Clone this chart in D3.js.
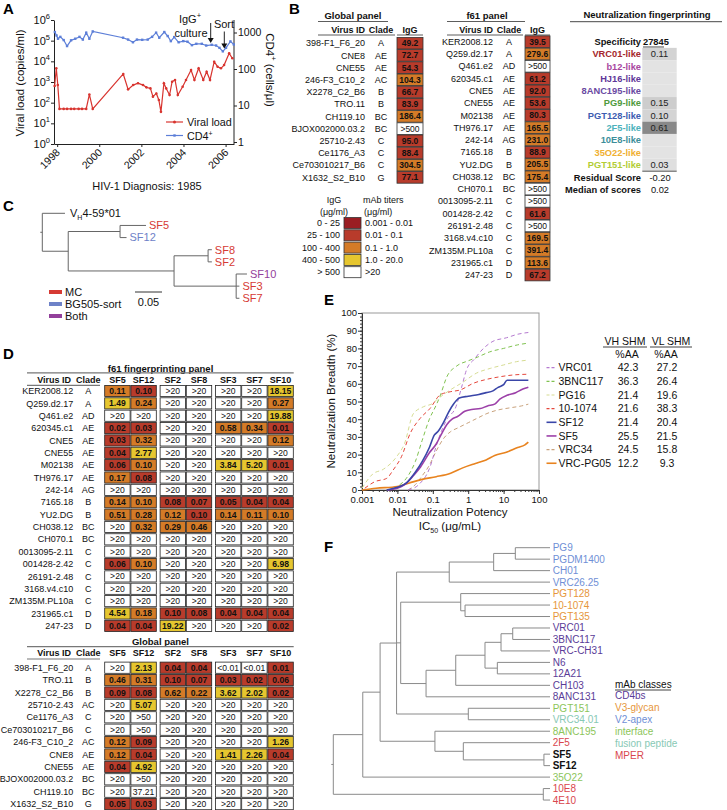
<!DOCTYPE html>
<html><head><meta charset="utf-8">
<script src="https://d3js.org/d3.v7.min.js"></script>
<style>
html,body{margin:0;padding:0;background:#fff;}
svg{display:block;font-family:"Liberation Sans",Arial,Helvetica,sans-serif;}
</style></head><body>
<svg id="fig" width="727" height="810" viewBox="0 0 727 810"></svg>
<script>
// ================= DATA =================
// ---- Panel A ----
const vlYears = [1997.88,1997.96,1998.03,1998.11,1998.31,1998.47,1998.66,1998.81,1999.02,1999.18,1999.38,1999.53,1999.69,2001.14,2001.37,2001.61,2001.84,2002.08,2002.24,2002.43,2002.55,2002.71,2002.83,2002.93,2003.07,2003.18,2003.34,2003.46,2003.60,2003.73,2003.96,2004.12,2004.36,2004.52,2004.72,2004.94,2005.10,2005.26,2005.46,2005.62,2005.78,2005.93,2006.17,2006.32];
const vlValues = [640,4600,710,50,50,50,50,50,50,50,50,250,50,2450,440,710,870,710,550,490,195,280,135,36,870,490,235,1030,1250,235,590,1250,3800,1250,4600,1250,3150,1250,9600,5500,4600,6600,24500,14000];
const cd4Years = [1997.89,1997.97,1998.04,1998.15,1998.31,1998.47,1998.66,1998.86,1999.06,1999.22,1999.38,1999.53,1999.69,2001.13,2001.37,2001.60,2001.79,2002.04,2002.30,2002.51,2002.70,2002.85,2003.09,2003.25,2003.40,2003.56,2003.77,2003.99,2004.19,2004.40,2004.61,2004.87,2005.08,2005.34,2005.55,2005.71,2005.87,2006.02,2006.23,2006.39];
const cd4Values = [1030,830,675,760,620,425,610,675,760,640,990,675,1070,720,640,540,640,630,640,760,990,720,1030,800,580,750,540,580,560,450,490,490,440,460,440,380,305,380,570,470];
const yearTicks = [1998,2000,2002,2004,2006];
const vlTicks = [1,10,100,1000,10000,100000,1000000];
const cd4Ticks = [1,10,100,1000];

// ---- Panel B ----
const bGlobalViruses = ["398-F1_F6_20","CNE8","CNE55","246-F3_C10_2","X2278_C2_B6","TRO.11","CH119.10","BJOX002000.03.2","25710-2.43","Ce1176_A3","Ce703010217_B6","X1632_S2_B10"];
const bGlobalClades = ["A","AE","AE","AC","B","B","BC","BC","C","C","C","G"];
const bGlobalIgG = [49.2,72.7,54.3,104.3,66.7,83.9,186.4,">500",95.0,88.4,304.5,77.1];
const f61Viruses = ["KER2008.12","Q259.d2.17","Q461.e2","620345.c1","CNE5","CNE55","M02138","TH976.17","242-14","7165.18","YU2.DG","CH038.12","CH070.1","0013095-2.11","001428-2.42","26191-2.48","3168.v4.c10","ZM135M.PL10a","231965.c1","247-23"];
const f61Clades = ["A","A","AD","AE","AE","AE","AE","AE","AG","B","B","BC","BC","C","C","C","C","C","D","D"];
const f61IgG = [39.5,279.6,">500",61.2,92.0,53.6,80.3,165.5,231.0,88.9,205.5,175.4,">500",">500",61.6,">500",169.5,391.4,113.6,67.2];
const iggLegend = ["0 - 25","25 - 100","100 - 400","400 - 500","> 500"];
const titerLegend = ["0.001 - 0.01","0.01 - 0.1","0.1 - 1.0","1.0 - 20.0",">20"];
const fpSpecificities = ["VRC01-like","b12-like","HJ16-like","8ANC195-like","PG9-like","PGT128-like","2F5-like","10E8-like","35O22-like","PGT151-like"];
const fpScores = [0.11,null,null,null,0.15,0.10,0.61,null,null,0.03];
const fpResidual = "-0.20";
const fpMedian = "0.02";

// ---- Panel C ----
const treeC = "(VH4-59*01:0.042,((SF5:0.048,SF12:0.012):0.096,((SF8:0.007,SF2:0.007):0.063,(SF10:0.020,SF3:0.006,SF7:0.006):0.115):0.196):0.048);";
const cMC = ["SF5","SF8","SF2","SF3","SF7"];
const cSort = ["SF12"];
const cBoth = ["SF10"];

// ---- Panel D ----
const dCols = ["SF5","SF12","SF2","SF8","SF3","SF7","SF10"];
const dF61 = {
  SF5:  [0.11,1.49,">20",0.02,0.03,0.04,0.06,0.17,">20",0.14,0.51,">20",">20",">20",0.06,">20",">20",">20",4.54,0.04],
  SF12: [0.098,0.24,">20",0.03,0.32,2.77,0.104,0.08,">20",0.104,0.28,0.32,">20",">20",0.104,">20",">20",">20",0.18,0.04],
  SF2:  [">20",">20",">20",">20",">20",">20",">20",">20",">20",0.08,0.12,0.29,">20",">20",">20",">20",">20",">20",0.10,19.22],
  SF8:  [">20",">20",">20",">20",">20",">20",">20",">20",">20",0.07,0.098,0.46,">20",">20",">20",">20",">20",">20",0.08,">20"],
  SF3:  [">20",">20",">20",0.58,">20",">20",3.84,">20",">20",0.05,0.14,">20",">20",">20",">20",">20",">20",">20",0.04,">20"],
  SF7:  [">20",">20",">20",0.34,">20",">20",5.20,">20",">20",0.04,0.11,">20",">20",">20",">20",">20",">20",">20",0.04,">20"],
  SF10: [18.15,0.27,19.88,0.01,0.12,">20",0.01,">20",">20",0.04,0.104,">20",">20",">20",6.98,">20",">20",">20",0.04,0.02]
};
const dGlobalViruses = ["398-F1_F6_20","TRO.11","X2278_C2_B6","25710-2.43","Ce1176_A3","Ce703010217_B6","246-F3_C10_2","CNE8","CNE55","BJOX002000.03.2","CH119.10","X1632_S2_B10"];
const dGlobalClades = ["A","B","B","AC","C","C","AC","AE","AE","BC","BC","G"];
const dGlobal = {
  SF5:  [">20",0.46,0.09,">20",">20",">20",0.12,0.12,0.04,">20",">20",0.05],
  SF12: [2.13,0.31,0.08,5.07,">50",">50",0.09,0.04,4.92,">50",37.21,0.03],
  SF2:  [0.04,0.098,0.62,">20",">20",">20",">20",">20",">20",">20",">20",">20"],
  SF8:  [0.04,0.07,0.22,">20",">20",">20",">20",">20",">20",">20",">20",">20"],
  SF3:  ["<0.01",0.03,3.62,">20",">20",">20",">20",1.41,">20",">20",">20",">20"],
  SF7:  ["<0.01",0.02,2.02,">20",">20",">20",">20",2.26,">20",">20",">20",">20"],
  SF10: [0.01,0.06,0.02,">20",">20",">20",1.26,0.04,">20",">20",">20",">20"]
};

// ---- Panel E ----
const eNames = ["VRC01","3BNC117","PG16","10-1074","SF12","SF5","VRC34","VRC-PG05"];
const eVH = ["42.3","36.3","21.4","21.6","21.4","25.5","24.5","12.2"];
const eVL = ["27.2","26.4","19.6","38.3","20.4","21.5","15.8","9.3"];
const icVRC01 = [0.02,0.04,0.08,0.14,0.25,0.45,0.65,0.9,1.5,2.7,5,12,25,50];
const brVRC01 = [0,3,12,28,40,47,58,68,74,80,84,86,88,89];
const ic3BNC117 = [0.005,0.01,0.02,0.032,0.05,0.08,0.125,0.16,0.25,0.47,1,1.8,4,10,25,50];
const br3BNC117 = [0,2,8,16,28,40,48,53,64,70,73,75,78,80,82,83];
const icPG16 = [0.001,0.002,0.004,0.0095,0.016,0.028,0.054,0.1,0.13,0.31,0.72,1.7,4.2,9.8,23,50];
const brPG16 = [1,9,11.7,18.8,26.4,43,47,49,51,56.5,61,66,68.7,70.6,72.5,73.4];
const ic101074 = [0.0012,0.0023,0.005,0.0076,0.013,0.023,0.044,0.083,0.16,0.31,0.59,1.4,3.3,8,19,50];
const br101074 = [1,4.7,6.6,11.3,18.8,32,40.5,46,53.7,55.5,56.5,60.3,62.5,64,65,65.4];
const icSF12 = [0.005,0.01,0.018,0.032,0.05,0.08,0.11,0.14,0.2,0.28,0.4,0.56,1,2,3.2,5,7,10,12.5,50];
const brSF12 = [0,1.5,4,10,16,24,31,33,38,44,49,52,53,54,55,56,58,59.5,62,62];
const icSF5 = [0.005,0.01,0.016,0.028,0.045,0.08,0.125,0.18,0.25,0.35,0.5,0.8,1.25,2.2,3.5,5.6,8,12.5,22,35,50];
const brSF5 = [0,1,3,8,13,21,26,32,37,40,41.5,44.5,45.5,46,47.5,48.5,51.5,53.5,55,57,58];
const icVRC34 = [0.02,0.032,0.05,0.08,0.125,0.2,0.32,0.5,1,2,3.2,6.3,16,32,50];
const brVRC34 = [0,3,8,14,22,29,33,35,38,41,43,45,46.5,47.5,48.5];
const icPG05 = [0.001,0.0025,0.01,0.022,0.05,0.125,0.32,0.7,1.6,3.2,5.6,12.5,25,40,50];
const brPG05 = [0,1,2,4,6,7.5,9.5,12.5,15,17,19.5,21.5,24,25.5,27];
const eXTicks = [0.001,0.01,0.1,1,10,100];
const eXTickLabels = ["0.001","0.01","0.1","1","10","100"];
const eYTicks = [0,10,20,30,40,50,60,70,80,90,100];

// ---- Panel F ----
const treeF = "((((((((PG9:0.160,PGDM1400:0.160):0.100,CH01:0.260):0.205,VRC26.25:0.465):0.243,((PGT128:0.412,(10-1074:0.392,PGT135:0.392):0.020):0.277,(((((VRC01:0.172,3BNC117:0.172):0.054,VRC-CH31:0.226):0.074,(N6:0.243,12A21:0.243):0.057):0.135,CH103:0.435):0.137,8ANC131:0.572):0.117):0.019,(PGT151:0.377,VRC34.01:0.377):0.331):0.076,(8ANC195:0.531,(2F5:0.400,(SF5:0.028,SF12:0.028):0.372):0.131):0.253):0.080,35O22:0.864):0.136,(10E8:0.031,4E10:0.031):0.969);";
const mabClasses = ["CD4bs","V3-glycan","V2-apex","interface","fusion peptide","MPER"];
const mabMembers = [
  ["VRC01","3BNC117","VRC-CH31","N6","12A21","CH103","8ANC131"],
  ["PGT128","10-1074","PGT135"],
  ["PG9","PGDM1400","CH01","VRC26.25"],
  ["PGT151","8ANC195","35O22"],
  ["VRC34.01"],
  ["2F5","10E8","4E10"]
];

// ================= DRAWING =================
const svg = d3.select("#fig");
const FF = '"Liberation Sans", Arial, Helvetica, sans-serif';

function T(g, x, y, s, size, anchor, weight, fill) {
  return g.append("text").attr("x", x).attr("y", y).attr("dy", "0.35em")
    .attr("font-size", size).attr("text-anchor", anchor || "start")
    .attr("font-weight", weight || "normal").attr("fill", fill || "#111").text(s);
}
function L(g, x1, y1, x2, y2, stroke, w) {
  return g.append("line").attr("x1", x1).attr("y1", y1).attr("x2", x2).attr("y2", y2)
    .attr("stroke", stroke || "#111").attr("stroke-width", w || 1);
}
function panelLabel(x, y, s) {
  svg.append("text").attr("x", x).attr("y", y).attr("font-size", 15).attr("font-weight", "bold").text(s);
}

// ---------- Panel A ----------
(function(){
  const g = svg.append("g");
  panelLabel(3, 14, "A");
  const x = d3.scaleLinear().domain([1997.85, 2006.4]).range([54, 234]);
  const yL = d3.scaleLog().domain([1, 1e6]).range([144, 20]);
  const yR = d3.scaleLog().domain([1, 1000]).range([142, 32.5]);
  const red = "#d8342f", blue = "#5d7fd8";

  const la = g.append("g").attr("transform", "translate(54,0)")
    .call(d3.axisLeft(yL).tickValues(vlTicks).tickFormat("").tickSize(3).tickSizeOuter(0));
  la.selectAll("path,line").attr("stroke", "#222");
  vlTicks.forEach(v => {
    const t = g.append("text").attr("x", 50).attr("y", yL(v) + 4).attr("text-anchor", "end").attr("font-size", 11).attr("fill", "#111");
    t.append("tspan").text("10");
    t.append("tspan").attr("dy", -5).attr("font-size", 7.5).text(Math.round(Math.log10(v)));
  });
  const ra = g.append("g").attr("transform", "translate(234,0)")
    .call(d3.axisRight(yR).tickValues(cd4Ticks).tickFormat(d3.format("d")).tickSize(3).tickSizeOuter(0));
  ra.select(".domain").remove();
  ra.selectAll("line").attr("stroke", "#222");
  ra.selectAll("text").attr("font-size", 10.5).attr("font-family", FF).attr("x", 4).attr("fill", "#111");
  L(g, 234, 20, 234, 144, "#222");
  const ba = g.append("g").attr("transform", "translate(0,144)")
    .call(d3.axisBottom(x).tickValues(yearTicks).tickFormat(d3.format("d")).tickSize(3).tickSizeOuter(0));
  ba.selectAll("path,line").attr("stroke", "#222");
  ba.selectAll("text").attr("font-size", 10.5).attr("font-family", FF).attr("fill", "#111")
    .attr("text-anchor", "end").attr("dy", 0).attr("y", 0)
    .attr("transform", "translate(3,9) rotate(-45)");

  const cd4 = cd4Years.map((yr, i) => [yr, cd4Values[i]]);
  const vl = vlYears.map((yr, i) => [yr, vlValues[i]]);
  g.append("path").attr("d", d3.line().x(d => x(d[0])).y(d => yR(d[1]))(cd4))
    .attr("fill", "none").attr("stroke", blue).attr("stroke-width", 1.2);
  g.selectAll(".cd4pt").data(cd4).enter().append("rect")
    .attr("x", d => x(d[0]) - 1.2).attr("y", d => yR(d[1]) - 1.2).attr("width", 2.4).attr("height", 2.4).attr("fill", blue);
  g.append("path").attr("d", d3.line().x(d => x(d[0])).y(d => yL(d[1]))(vl))
    .attr("fill", "none").attr("stroke", red).attr("stroke-width", 1.2);
  g.selectAll(".vlpt").data(vl).enter().append("circle")
    .attr("cx", d => x(d[0])).attr("cy", d => yL(d[1])).attr("r", 1.3).attr("fill", red);

  // axis titles
  g.append("text").attr("transform", "translate(24,83) rotate(-90)").attr("text-anchor", "middle")
    .attr("font-size", 11.5).attr("fill", "#111").text("Viral load (copies/ml)");
  const rt = g.append("text").attr("transform", "translate(266,70) rotate(90)").attr("text-anchor", "middle")
    .attr("font-size", 11.5).attr("fill", "#111");
  rt.append("tspan").text("CD4");
  rt.append("tspan").attr("dy", -5).attr("font-size", 7.5).text("+");
  rt.append("tspan").attr("dy", 5).text(" (cells/μl)");
  T(g, 147, 186, "HIV-1 Diagnosis: 1985", 11, "middle");

  // legend
  L(g, 166, 122, 183, 122, red, 1.2);
  g.append("circle").attr("cx", 174.5).attr("cy", 122).attr("r", 1.5).attr("fill", red);
  T(g, 187, 122, "Viral load", 10.8);
  L(g, 166, 135.5, 183, 135.5, blue, 1.2);
  g.append("rect").attr("x", 173.3).attr("y", 134.3).attr("width", 2.4).attr("height", 2.4).attr("fill", blue);
  const cl = g.append("text").attr("x", 187).attr("y", 139.5).attr("font-size", 10.8).attr("fill", "#111");
  cl.append("tspan").text("CD4");
  cl.append("tspan").attr("dy", -4).attr("font-size", 7).text("+");

  // annotations
  const ig = g.append("text").attr("x", 190).attr("y", 23).attr("text-anchor", "middle").attr("font-size", 11).attr("fill", "#111");
  ig.append("tspan").text("IgG");
  ig.append("tspan").attr("dy", -5).attr("font-size", 7.5).text("+");
  g.append("text").attr("x", 191).attr("y", 37).attr("text-anchor", "middle").attr("font-size", 11).attr("fill", "#111").text("culture");
  g.append("text").attr("x", 224).attr("y", 28).attr("text-anchor", "middle").attr("font-size", 11).attr("fill", "#111").text("Sort");
  function arrow(xx, y1, y2) {
    L(g, xx, y1, xx, y2 - 4, "#222", 1);
    g.append("path").attr("d", `M${xx - 3},${y2 - 5}L${xx + 3},${y2 - 5}L${xx},${y2}Z`).attr("fill", "#111");
  }
  arrow(210.7, 23, 43);
  arrow(224.3, 31.5, 48.5);
})();

// ---------- colour helpers ----------
const cDark = "#9a1d22", cRed = "#b83b2b", cOrange = "#d47b27", cYellow = "#e6c62f";
function iggColor(v) {
  if (typeof v !== "number") return "#fff";
  if (v <= 25) return cDark;
  if (v <= 100) return cRed;
  if (v <= 400) return cOrange;
  if (v <= 500) return cYellow;
  return "#fff";
}
function titerColor(v) {
  if (typeof v !== "number") return "#fff";
  if (v <= 0.1) return cRed;
  if (v <= 1) return cOrange;
  if (v <= 20) return cYellow;
  return "#fff";
}
function fmtIgG(v) { return typeof v === "number" ? v.toFixed(1) : v; }
function fmtTiter(v) { return typeof v === "number" ? v.toFixed(2) : v; }

// ---------- Panel B ----------
(function(){
  const g = svg.append("g");
  panelLabel(289, 14, "B");
  function igTable(opt) {
    const y = d3.scaleLinear().domain([0, 1]).range([opt.y0, opt.y0 + opt.dy]);
    T(g, opt.titleX, 15.5, opt.title, 9.5, "middle", "bold");
    L(g, opt.lineX1, 21.5, opt.lineX2, 21.5, "#333", 0.8);
    T(g, opt.idRight, 29.5, "Virus ID", 9, "end", "bold");
    T(g, opt.cladeX, 29.5, "Clade", 9, "middle", "bold");
    T(g, opt.cellX + opt.cellW / 2, 29.5, "IgG", 9, "middle", "bold");
    L(g, opt.lineX1, 35, opt.cellX - 2, 35, "#333", 0.8);
    L(g, opt.cellX, 35, opt.cellX + opt.cellW, 35, "#333", 0.8);
    opt.viruses.forEach((v, i) => {
      const yc = y(i);
      T(g, opt.idRight, yc, v, 9, "end");
      T(g, opt.cladeX, yc, opt.clades[i], 9, "middle");
      g.append("rect").attr("x", opt.cellX).attr("y", yc - opt.dy / 2 + 0.3).attr("width", opt.cellW).attr("height", opt.dy - 0.6)
        .attr("fill", iggColor(opt.igg[i])).attr("stroke", "#333").attr("stroke-width", 0.8);
      T(g, opt.cellX + opt.cellW / 2, yc, fmtIgG(opt.igg[i]), 8.5, "middle", typeof opt.igg[i] === "number" ? "bold" : "normal");
    });
  }
  igTable({ title: "Global panel", titleX: 353, lineX1: 318, lineX2: 388, idRight: 365, cladeX: 381,
    cellX: 397, cellW: 26, y0: 43.2, dy: 12.2, viruses: bGlobalViruses, clades: bGlobalClades, igg: bGlobalIgG });
  igTable({ title: "f61 panel", titleX: 487, lineX1: 447, lineX2: 525, idRight: 493, cladeX: 509,
    cellX: 525, cellW: 25, y0: 41.7, dy: 12.28, viruses: f61Viruses, clades: f61Clades, igg: f61IgG });

  // legend
  T(g, 334, 200, "IgG", 9, "middle");
  T(g, 334, 211.5, "(μg/ml)", 9, "middle");
  T(g, 363, 200, "mAb titers", 9, "start");
  T(g, 364, 211.5, "(μg/ml)", 9, "start");
  const legCols = [cDark, cRed, cOrange, cYellow, "#fff"];
  iggLegend.forEach((s, i) => {
    const yc = 223 + i * 12.3;
    T(g, 340, yc, s, 9, "end");
    g.append("rect").attr("x", 344).attr("y", yc - 5.5).attr("width", 17).attr("height", 11)
      .attr("fill", legCols[i]).attr("stroke", "#333").attr("stroke-width", 0.8);
    T(g, 365, yc, titerLegend[i], 9, "start");
  });

  // Neutralization fingerprinting
  const fpCols = ["#a5272c","#a8479f","#5f3799","#6a4aa2","#4f9a3c","#3d5db1","#4cb2bc","#3d8e9a","#f0b032","#b2cd34"];
  T(g, 647, 15, "Neutralization fingerprinting", 9.5, "middle", "bold");
  L(g, 570, 21.7, 722, 21.7, "#333", 0.9);
  T(g, 641, 41.7, "Specificity", 9.3, "end", "bold");
  T(g, 643, 41.7, "27845", 9.3, "start", "bold");
  L(g, 643, 47, 664, 47, "#111", 0.8);
  const gray = d3.scaleLinear().domain([0, 0.7]).range(["#e3e3e3", "#7c7c7c"]);
  const fy = i => 54 + i * 12.3;
  fpSpecificities.forEach((s, i) => {
    const yc = fy(i);
    g.append("rect").attr("x", 642.3).attr("y", yc - 6.15).attr("width", 34.4).attr("height", 12.3)
      .attr("fill", fpScores[i] == null ? "#e3e3e3" : gray(fpScores[i]));
    T(g, 641, yc, s, 9.3, "end", "bold", fpCols[i]);
    if (fpScores[i] != null) T(g, 659.5, yc, fpScores[i].toFixed(2), 9.3, "middle", "normal", "#222");
  });
  L(g, 642.3, fy(9) + 6.5, 676.7, fy(9) + 6.5, "#888", 1.5);
  T(g, 641, 177.5, "Residual Score", 9.3, "end", "bold");
  T(g, 660, 177.5, fpResidual, 9.3, "middle");
  T(g, 641, 190, "Median of scores", 9.3, "end", "bold");
  T(g, 660, 190, fpMedian, 9.3, "middle");
})();

// ---------- tree helpers ----------
function parseNewick(s) {
  let i = 0;
  function node() {
    const n = { children: [] };
    if (s[i] === "(") {
      i++;
      n.children.push(node());
      while (s[i] === ",") { i++; n.children.push(node()); }
      i++;
    }
    let name = "";
    while (i < s.length && !":,();".includes(s[i])) name += s[i++];
    n.name = name;
    n.len = 0;
    if (s[i] === ":") {
      i++; let num = "";
      while (i < s.length && !",();".includes(s[i])) num += s[i++];
      n.len = +num;
    }
    if (!n.children.length) delete n.children;
    return n;
  }
  return node();
}
function layoutTree(newick, y0, dy) {
  const root = d3.hierarchy(parseNewick(newick));
  root.eachBefore(n => { n.dist = n.parent ? n.parent.dist + n.data.len : 0; });
  root.leaves().forEach((l, i) => { l.yy = y0 + i * dy; });
  root.eachAfter(n => { if (n.children) n.yy = (n.children[0].yy + n.children[n.children.length - 1].yy) / 2; });
  return root;
}
function drawTree(g, root, xs, stroke) {
  root.descendants().forEach(n => {
    if (n.parent) g.append("path").attr("d", `M${xs(n.parent.dist)},${n.yy}H${xs(n.dist)}`)
      .attr("stroke", stroke).attr("fill", "none").attr("stroke-width", 1);
    if (n.children) g.append("path").attr("d", `M${xs(n.dist)},${n.children[0].yy}V${n.children[n.children.length - 1].yy}`)
      .attr("stroke", stroke).attr("fill", "none").attr("stroke-width", 1);
  });
  g.append("path").attr("d", `M${xs(0) - 2},${root.yy}H${xs(0)}`).attr("stroke", stroke).attr("stroke-width", 1);
}

// ---------- Panel C ----------
(function(){
  const g = svg.append("g");
  panelLabel(3, 211, "C");
  const root = layoutTree(treeC, 213.3, 12.14);
  const xs = d3.scaleLinear().domain([0, 0.05]).range([42.3, 69.3]);
  drawTree(g, root, xs, "#666");
  const cRedC = "#d63a34", cBlueC = "#6e82c8", cPurpC = "#93409b";
  root.leaves().forEach(l => {
    const nm = l.data.name;
    const col = cMC.includes(nm) ? cRedC : cSort.includes(nm) ? cBlueC : cBoth.includes(nm) ? cPurpC : "#111";
    const t = g.append("text").attr("x", xs(l.dist) + (nm.startsWith("VH") ? 5 : 3)).attr("y", l.yy).attr("dy", "0.35em")
      .attr("font-size", 11).attr("fill", col);
    if (nm.startsWith("VH")) {
      t.append("tspan").text("V");
      t.append("tspan").attr("dy", 3).attr("font-size", 7).text("H");
      t.append("tspan").attr("dy", -3).text(nm.slice(2));
    } else t.text(nm);
  });
  // legend
  [["MC", cRedC], ["BG505-sort", cBlueC], ["Both", cPurpC]].forEach((d, i) => {
    const yc = 292 + i * 12;
    L(g, 49, yc, 62, yc, d[1], 4);
    T(g, 65, yc, d[0], 11);
  });
  L(g, xs(0) + 92.7, 292, xs(0.05) + 92.7, 292, "#333", 1);
  T(g, (xs(0) + xs(0.05)) / 2 + 92.7, 302.5, "0.05", 11, "middle");
})();

// ---------- Panel D ----------
(function(){
  const g = svg.append("g");
  panelLabel(3, 359, "D");
  const cw = 26.2, gap = 3;
  const groups = [["SF5","SF12"],["SF2","SF8"],["SF3","SF7","SF10"]];
  const colX = {};
  let cx = 104.3;
  groups.forEach(gr => { gr.forEach(c => { colX[c] = cx; cx += cw; }); cx += gap; });
  const right = colX["SF10"] + cw;
  function table(title, titleY, viruses, clades, data, rowY0, dy) {
    T(g, 160.5, titleY, title, 9.5, "middle", "bold");
    L(g, 27, titleY + 4.6, right, titleY + 4.6, "#777", 1.2);
    const hy = titleY + 11.2;
    T(g, 71, hy, "Virus ID", 9, "end", "bold");
    T(g, 88.3, hy, "Clade", 9, "middle", "bold");
    dCols.forEach(c => T(g, colX[c] + cw / 2, hy, c, 9, "middle", "bold"));
    L(g, 27, hy + 5.8, 100, hy + 5.8, "#777", 1.2);
    const y = d3.scaleLinear().domain([0, 1]).range([rowY0, rowY0 + dy]);
    viruses.forEach((v, i) => {
      const yc = y(i);
      T(g, 73.3, yc, v, 9, "end");
      T(g, 88.3, yc, clades[i], 9, "middle");
      dCols.forEach(c => {
        const val = data[c][i];
        g.append("rect").attr("x", colX[c] + 0.4).attr("y", yc - dy / 2 + 0.6).attr("width", cw - 0.8).attr("height", dy - 1.2)
          .attr("fill", titerColor(val)).attr("stroke", "#222").attr("stroke-width", 0.8);
        T(g, colX[c] + cw / 2, yc, fmtTiter(val), 8.6, "middle", typeof val === "number" && val <= 20 ? "bold" : "normal");
      });
    });
  }
  table("f61 fingerprinting panel", 368.3, f61Viruses, f61Clades, dF61, 391, 12.36);
  table("Global panel", 642, dGlobalViruses, dGlobalClades, dGlobal, 667.7, 12.4);
})();

// ---------- Panel E ----------
(function(){
  const g = svg.append("g");
  panelLabel(324, 305, "E");
  const x = d3.scaleLog().domain([0.001, 100]).range([362, 539]);
  const y = d3.scaleLinear().domain([0, 100]).range([490, 313]);
  g.append("rect").attr("x", 362).attr("y", 313).attr("width", 177).attr("height", 177)
    .attr("fill", "none").attr("stroke", "#999").attr("stroke-width", 1);
  const bx = g.append("g").attr("transform", "translate(0,490)")
    .call(d3.axisBottom(x).tickValues(eXTicks).tickFormat((d, i) => eXTickLabels[i]).tickSize(4).tickSizeOuter(0));
  bx.selectAll("text").attr("font-size", 9.5).attr("font-family", FF).attr("fill", "#111").attr("y", 6.5);
  bx.selectAll("path,line").attr("stroke", "#333");
  const bxm = g.append("g").attr("transform", "translate(0,490)")
    .call(d3.axisBottom(x).tickValues(x.ticks()).tickFormat("").tickSize(2).tickSizeOuter(0));
  bxm.selectAll("path,line").attr("stroke", "#333");
  const ly = g.append("g").attr("transform", "translate(362,0)")
    .call(d3.axisLeft(y).tickValues(eYTicks).tickSize(4).tickSizeOuter(0));
  ly.selectAll("text").attr("font-size", 9.5).attr("font-family", FF).attr("fill", "#111").attr("x", -5).attr("dy", "0.3em");
  ly.selectAll("path,line").attr("stroke", "#333");
  const lym = g.append("g").attr("transform", "translate(362,0)")
    .call(d3.axisLeft(y).tickValues(y.ticks(50)).tickFormat("").tickSize(2).tickSizeOuter(0));
  lym.selectAll("path,line").attr("stroke", "#333");

  g.append("text").attr("transform", "translate(335,401) rotate(-90)").attr("text-anchor", "middle")
    .attr("font-size", 11.5).attr("fill", "#111").text("Neutralization  Breadth (%)");
  T(g, 450, 512, "Neutralization Potency", 11.5, "middle");
  const ic = g.append("text").attr("x", 450).attr("y", 530).attr("text-anchor", "middle").attr("font-size", 11.5).attr("fill", "#111");
  ic.append("tspan").text("IC");
  ic.append("tspan").attr("dy", 3).attr("font-size", 7).text("50");
  ic.append("tspan").attr("dy", -3).text(" (μg/mL)");

  const series = [
    [icVRC01, brVRC01], [ic3BNC117, br3BNC117], [icPG16, brPG16], [ic101074, br101074],
    [icSF12, brSF12], [icSF5, brSF5], [icVRC34, brVRC34], [icPG05, brPG05]
  ];
  const cols = ["#b57ad0", "#80c250", "#d6dc92", "#e5473c", "#3a46a8", "#9c40a8", "#c9a27c", "#e8831f"];
  const dashed = [true, true, true, true, false, false, true, false];
  const line = d3.line().x(d => x(d[0])).y(d => y(d[1])).curve(d3.curveMonotoneX);
  const order = [2, 6, 3, 1, 0, 7, 5, 4];
  order.forEach(k => {
    const pts = series[k][0].map((v, i) => [v, series[k][1][i]]);
    g.append("path").attr("d", line(pts)).attr("fill", "none").attr("stroke", cols[k])
      .attr("stroke-width", dashed[k] ? 1 : 1.6).attr("stroke-dasharray", dashed[k] ? "4,3" : null);
  });

  // legend
  T(g, 625, 341.5, "VH SHM", 10.5, "middle");
  L(g, 603, 347, 647, 347, "#111", 0.8);
  T(g, 671, 341.5, "VL SHM", 10.5, "middle");
  L(g, 650, 347, 692, 347, "#111", 0.8);
  T(g, 627, 354, "%AA", 10.5, "middle");
  T(g, 666, 354, "%AA", 10.5, "middle");
  eNames.forEach((nm, i) => {
    const yc = 367.7 + i * 13.65;
    L(g, 546.5, yc, 556.5, yc, cols[i], dashed[i] ? 1.2 : 1.6).attr("stroke-dasharray", dashed[i] ? "3,2" : null);
    T(g, 558.5, yc, nm, 10.5);
    T(g, 628, yc, eVH[i], 10.5, "middle");
    T(g, 667, yc, eVL[i], 10.5, "middle");
  });
})();

// ---------- Panel F ----------
(function(){
  const g = svg.append("g");
  panelLabel(324, 552, "F");
  const root = layoutTree(treeF, 547.7, 11.47);
  const xs = d3.scaleLinear().domain([0, 1]).range([333.3, 550]);
  drawTree(g, root, xs, "#8a8a8a");
  const classCols = ["#5a3b97", "#e6963b", "#6f8fd6", "#8cc55a", "#88c9b5", "#d9464d"];
  root.leaves().forEach(l => {
    const nm = l.data.name;
    let col = "#111", bold = "bold";
    mabMembers.forEach((m, k) => { if (m.includes(nm)) { col = classCols[k]; bold = "normal"; } });
    T(g, xs(l.dist) + 2.7, l.yy, nm, 10, "start", bold, col);
  });
  T(g, 615, 684, "mAb classes", 10, "start", "normal", "#111");
  L(g, 615, 690, 671, 690, "#111", 0.8);
  mabClasses.forEach((c, i) => {
    T(g, 615, 695.8 + i * 11.85, c, 10, "start", "normal", classCols[i]);
  });
})();
</script>
</body></html>
